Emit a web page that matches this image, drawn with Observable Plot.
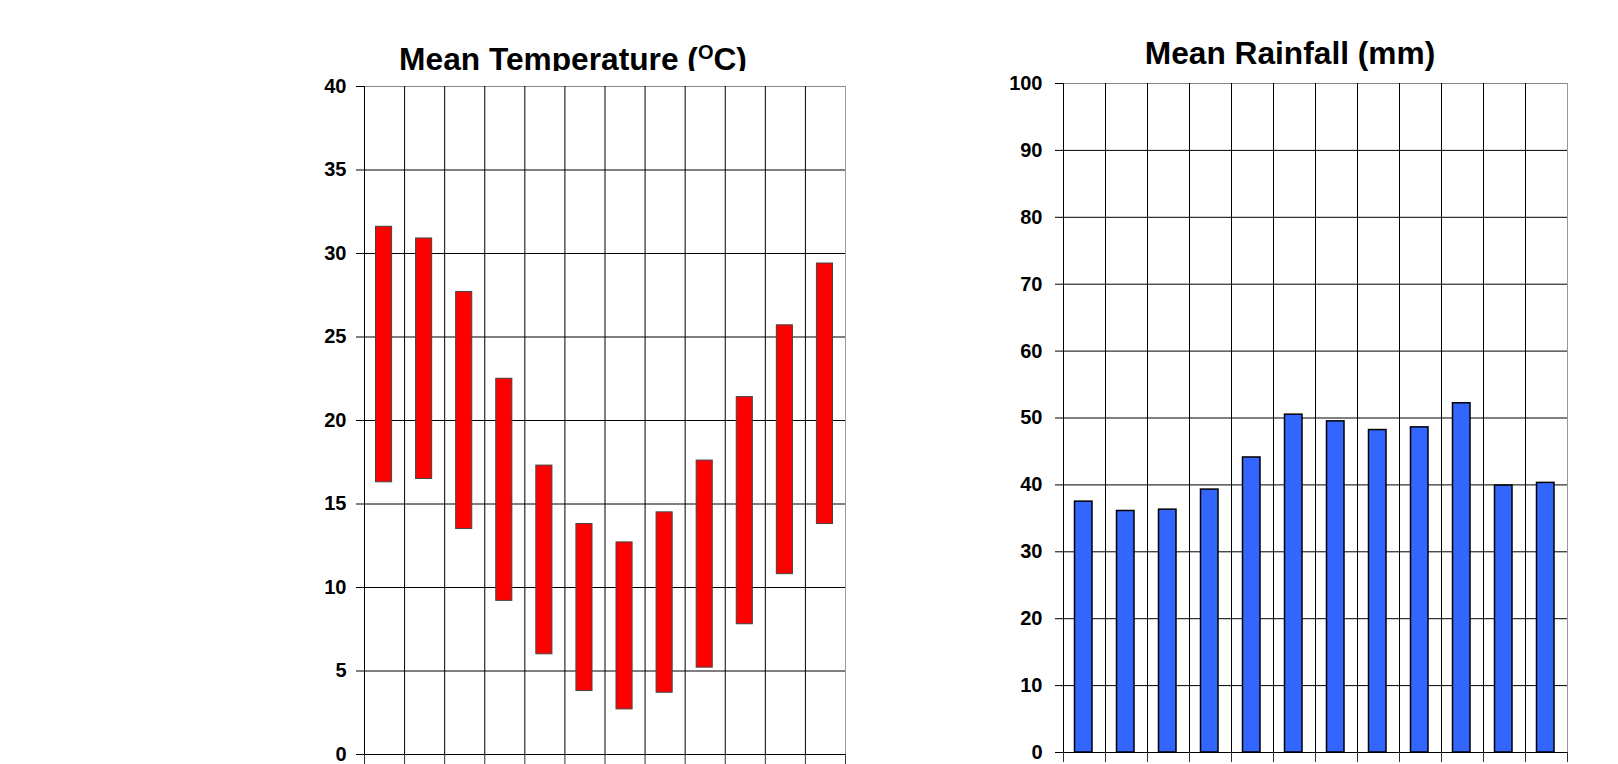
<!DOCTYPE html>
<html>
<head>
<meta charset="utf-8">
<script src="https://cdn.jsdelivr.net/npm/d3@7"></script>
<script src="https://cdn.jsdelivr.net/npm/@observablehq/plot@0.6"></script>
<style>
  html, body { margin: 0; padding: 0; background: #fff; width: 1618px; height: 764px; overflow: hidden; position: relative; }
  .title { position: absolute; font-family: Arial, "Liberation Sans", sans-serif; font-weight: bold; font-size: 31.7px; line-height: 31px; text-align: center; color: #000; white-space: nowrap; }
  .title sup { font-size: 20px; vertical-align: 11px; line-height: 0; }
  .chart { position: absolute; }
</style>
</head>
<body>
<div class="title" id="t1" style="left:273px; top:44px; width:600px; height:27px; overflow:hidden;">Mean Temperature (<sup>O</sup>C)</div>
<div class="title" id="t2" style="left:990px; top:38px; width:600px;">Mean Rainfall (mm)</div>
<div class="chart" id="c1" style="left:280px; top:70px;"></div>
<div class="chart" id="c2" style="left:980px; top:70px;"></div>
<script>
// ---- data ----
const months = ["Jan","Feb","Mar","Apr","May","Jun","Jul","Aug","Sep","Oct","Nov","Dec"];
const tempHigh = [31.6, 30.9, 27.7, 22.5, 17.3, 13.8, 12.7, 14.5, 17.6, 21.4, 25.7, 29.4];
const tempLow  = [16.3, 16.5, 13.5, 9.2, 6.0, 3.8, 2.7, 3.7, 5.2, 7.8, 10.8, 13.8];
const rainfall = [37.5, 36.1, 36.3, 39.3, 44.1, 50.5, 49.5, 48.2, 48.6, 52.2, 39.9, 40.3];
const tempTicks = [0, 5, 10, 15, 20, 25, 30, 35, 40];
const rainTicks = [0, 10, 20, 30, 40, 50, 60, 70, 80, 90, 100];

const tempData = months.map((m, i) => ({month: m, i, low: tempLow[i], high: tempHigh[i]}));
const rainData = months.map((m, i) => ({month: m, i, value: rainfall[i]}));
const bounds = d3.range(months.length + 1);
const innerBounds = bounds.slice(0, months.length);

const baseStyle = {fontFamily: 'Arial, "Liberation Sans", sans-serif', fontWeight: "bold", fontSize: "20px", color: "#000", background: "transparent", overflow: "visible"};

function chart({ticks, yMax, width, height, mL, mR, mT, mB, tickPad, barMark}) {
  return Plot.plot({
    width, height,
    marginLeft: mL, marginRight: mR, marginTop: mT, marginBottom: mB,
    style: baseStyle,
    x: {domain: [0, months.length], axis: null, label: null},
    y: {domain: [0, yMax], axis: null, label: null},
    marks: [
      Plot.ruleY(ticks.filter(t => t !== yMax), {stroke: "#000", strokeWidth: 1}),
      Plot.ruleY([yMax], {stroke: "#888", strokeWidth: 1}),
      Plot.ruleX(innerBounds, {stroke: "#000", strokeWidth: 1}),
      Plot.ruleX([months.length], {stroke: "#999", strokeWidth: 1}),
      Plot.axisX({ticks: bounds, tickSize: 10, tickFormat: () => "", stroke: "#333", anchor: "bottom", label: null}),
      Plot.axisY({ticks, tickSize: 8, tickPadding: tickPad, anchor: "left", label: null, fontWeight: "bold", fontSize: 20, stroke: "#000", fill: "#000"}),
      barMark
    ]
  });
}

const c1 = chart({
  ticks: tempTicks, yMax: 40,
  width: 580, height: 694, mL: 84, mR: 15, mT: 16, mB: 10, tickPad: 10,
  barMark: Plot.rectY(tempData, {x1: "i", x2: d => d.i + 1, y1: "low", y2: "high", fill: "#ff0000", stroke: "#444", strokeWidth: 1, insetLeft: 11.5, insetRight: 12.5})
});
document.getElementById("c1").appendChild(c1);

const c2 = chart({
  ticks: rainTicks, yMax: 100,
  width: 620, height: 694, mL: 83, mR: 33, mT: 13, mB: 12, tickPad: 13,
  barMark: Plot.rectY(rainData, {x1: "i", x2: d => d.i + 1, y1: 0, y2: "value", fill: "#3366ff", stroke: "#000", strokeWidth: 1.5, insetLeft: 11.5, insetRight: 13})
});
document.getElementById("c2").appendChild(c2);
</script>
</body>
</html>
